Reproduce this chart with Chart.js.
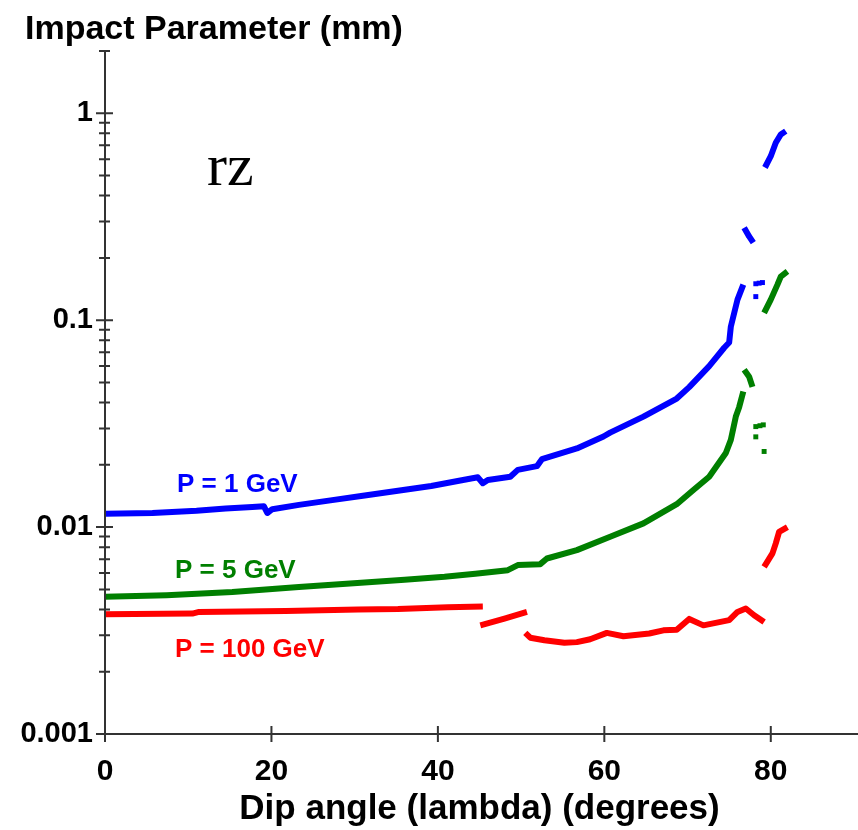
<!DOCTYPE html>
<html><head><meta charset="utf-8">
<script src="https://cdn.jsdelivr.net/npm/chart.js@4.4.1/dist/chart.umd.min.js"></script>
<style>html,body{margin:0;padding:0;background:#fff}#wrap{width:858px;height:830px;position:relative}</style>
</head><body><div id="wrap"><canvas id="c" width="858" height="830"></canvas></div>
<script>
// ---- data ----
const xTickValues = [0, 20, 40, 60, 80];
const yMajorTicks = [0.001, 0.01, 0.1, 1];
const seriesLabels = ['P = 1 GeV', 'P = 5 GeV', 'P = 100 GeV'];
const chartTitle = 'Impact Parameter (mm)';
const xTitle = 'Dip angle (lambda) (degrees)';
const viewLabel = 'rz';

// P = 1 GeV (null = gap between segments)
const p1Angle  = [0, 5.7, 11, 14.5, 17.7, 19.1, 19.5, 20.1, 23.3, 27.3, 31.2, 35.2, 39.2, 42.7, 44.8, 45.4, 46, 48.7, 49.6, 51.9, 52.5, 56.7, 59.9, 60.7, 64.7, 68.7, 70.2, 72.6, 74.4, 75, 75.2, 76, 76.7, 76.75, 76.8, 77.4, 77.9, 78.5, 79.3, 80, 80.6, 81.2, 81.8];
const p1Impact = [0.0116, 0.0117, 0.0120, 0.0123, 0.0125, 0.0126, 0.0117, 0.0122, 0.0128, 0.0135, 0.0142, 0.0150, 0.0158, 0.0168, 0.0174, 0.0163, 0.0169, 0.0175, 0.0189, 0.0197, 0.0213, 0.0240, 0.0274, 0.0286, 0.0342, 0.0418, 0.0475, 0.0600, 0.0736, 0.0780, 0.0931, 0.1257, 0.1486, null, 0.280, 0.254, 0.237, null, 0.547, 0.62, 0.72, 0.79, 0.82];
const p1DotAngle  = [78.2, 78.6, 79.0, 78.2];
const p1DotImpact = [0.150, 0.151, 0.152, 0.130];

// P = 5 GeV
const p5Angle  = [0, 7.4, 15.3, 23.3, 31.2, 36, 40.8, 44.5, 48.4, 49.6, 52.3, 53.1, 56.7, 60.7, 64.7, 68.7, 70.7, 72.6, 74.6, 75.2, 75.8, 76.2, 76.7, 76.75, 76.8, 77.4, 77.8, 78.5, 79.2, 80, 80.8, 81.2, 82];
const p5Impact = [0.00460, 0.00469, 0.00486, 0.00514, 0.00540, 0.00557, 0.00575, 0.00595, 0.00619, 0.00655, 0.00662, 0.00705, 0.00774, 0.00898, 0.01042, 0.0129, 0.0151, 0.0175, 0.0228, 0.0264, 0.0342, 0.0380, 0.0452, null, 0.0576, 0.0533, 0.0476, null, 0.1084, 0.1257, 0.1486, 0.1625, 0.172];
const p5DotAngle  = [78.2, 78.7, 79.1, 78.2, 79.2];
const p5DotImpact = [0.0306, 0.0309, 0.0312, 0.0273, 0.0232];

// P = 100 GeV
const p100Angle  = [0, 10.5, 11.3, 21.7, 30.4, 35.2, 41.2, 45.4, 45.3, 45.1, 48, 50.7, 50.6, 50.5, 51.1, 52.8, 55.2, 56.7, 58.3, 60.3, 62.3, 65.4, 67.1, 68.7, 70.2, 71.9, 75, 76, 77, 78, 79.2, 79.3, 79.2, 80.2, 80.6, 81, 82];
const p100Impact = [0.00379, 0.00382, 0.00389, 0.00393, 0.00400, 0.00402, 0.00410, 0.00413, null, 0.00335, 0.00361, 0.00389, null, 0.00308, 0.00292, 0.00284, 0.00276, 0.00278, 0.00287, 0.00308, 0.00297, 0.00306, 0.00317, 0.00319, 0.00360, 0.00335, 0.00355, 0.00389, 0.00404, 0.00375, 0.00348, null, 0.00642, 0.00746, 0.00834, 0.00948, 0.0100];

const colors = ['#0000FF', '#007F00', '#FF0000'];

function pts(xs, ys) { return xs.map((x, i) => ({ x: x, y: ys[i] })); }

const lineDs = (data, c) => ({ data, borderColor: c, backgroundColor: c, borderWidth: 6, pointRadius: 0, spanGaps: false, tension: 0, borderJoinStyle: 'round', borderCapStyle: 'butt' });
const dotDs = (data, c) => ({ data, borderColor: c, backgroundColor: c, showLine: false, pointStyle: 'rect', pointRadius: 3.5, borderWidth: 0 });

const decor = {
  id: 'decor',
  afterDraw(chart) {
    const { ctx, chartArea: a, scales: { x, y } } = chart;
    ctx.save();
    ctx.strokeStyle = '#333'; ctx.lineWidth = 2;
    ctx.beginPath();
    ctx.moveTo(a.left, a.top); ctx.lineTo(a.left, a.bottom);
    ctx.moveTo(a.left, a.bottom); ctx.lineTo(chart.width, a.bottom);
    y.ticks.forEach(t => {
      const py = y.getPixelForValue(t.value);
      const major = yMajorTicks.some(v => Math.abs(v - t.value) < 1e-12);
      const l = major ? 9 : 6, r = major ? 8 : 5;
      ctx.moveTo(a.left - l, py); ctx.lineTo(a.left + r, py);
    });
    x.ticks.forEach(t => {
      const px = x.getPixelForValue(t.value);
      ctx.moveTo(px, a.bottom - 8); ctx.lineTo(px, a.bottom + 8);
    });
    ctx.stroke();
    ctx.fillStyle = '#000';
    ctx.textBaseline = 'alphabetic';
    ctx.font = 'bold 34px "Liberation Sans", Arial, sans-serif';
    ctx.fillText(chartTitle, 25, 39);
    ctx.font = '60px "Liberation Serif", "Times New Roman", serif';
    ctx.fillText(viewLabel, 207, 185);
    ctx.font = 'bold 26px "Liberation Sans", Arial, sans-serif';
    const lp = [[177, 492], [175, 578], [175, 657]];
    seriesLabels.forEach((s, i) => { ctx.fillStyle = colors[i]; ctx.fillText(s, lp[i][0], lp[i][1]); });
    ctx.restore();
  }
};

new Chart(document.getElementById('c'), {
  type: 'line',
  data: {
    datasets: [
      lineDs(pts(p1Angle, p1Impact), colors[0]),
      dotDs(pts(p1DotAngle, p1DotImpact), colors[0]),
      lineDs(pts(p5Angle, p5Impact), colors[1]),
      dotDs(pts(p5DotAngle, p5DotImpact), colors[1]),
      lineDs(pts(p100Angle, p100Impact), colors[2])
    ]
  },
  options: {
    responsive: false, animation: false, devicePixelRatio: 1,
    layout: { padding: { top: 51, left: 0, right: 0, bottom: 0 } },
    plugins: { legend: { display: false }, tooltip: { enabled: false } },
    scales: {
      x: {
        type: 'linear', min: 0, max: 90,
        afterBuildTicks: s => { s.ticks = xTickValues.map(v => ({ value: v })); },
        afterFit: s => { s.height = 96; s.paddingLeft = 0; s.paddingRight = 0; },
        grid: { display: false, drawTicks: false }, border: { display: false },
        ticks: { color: '#000', font: { family: '"Liberation Sans", Arial, sans-serif', size: 30, weight: 'bold' }, padding: 20, maxRotation: 0, autoSkip: false },
        title: { display: true, text: xTitle, color: '#000', font: { family: '"Liberation Sans", Arial, sans-serif', size: 35, weight: 'bold' }, padding: { top: 0, bottom: 0 } }
      },
      y: {
        type: 'logarithmic', min: 0.001, max: 2,
        afterBuildTicks: s => {
          const t = [];
          for (let e = -3; e <= 0; e++) for (let m = 1; m <= 9; m++) {
            const v = +(m * Math.pow(10, e)).toPrecision(3);
            if (v <= 2) t.push({ value: v });
          }
          s.ticks = t;
        },
        afterFit: s => { s.width = 105; },
        grid: { display: false, drawTicks: false }, border: { display: false },
        ticks: {
          autoSkip: false, padding: 12, color: '#000',
          font: { family: '"Liberation Sans", Arial, sans-serif', size: 29, weight: 'bold' },
          callback: v => yMajorTicks.some(m => Math.abs(m - v) < 1e-12) ? String(v) : ''
        }
      }
    }
  },
  plugins: [decor]
});
</script></body></html>
